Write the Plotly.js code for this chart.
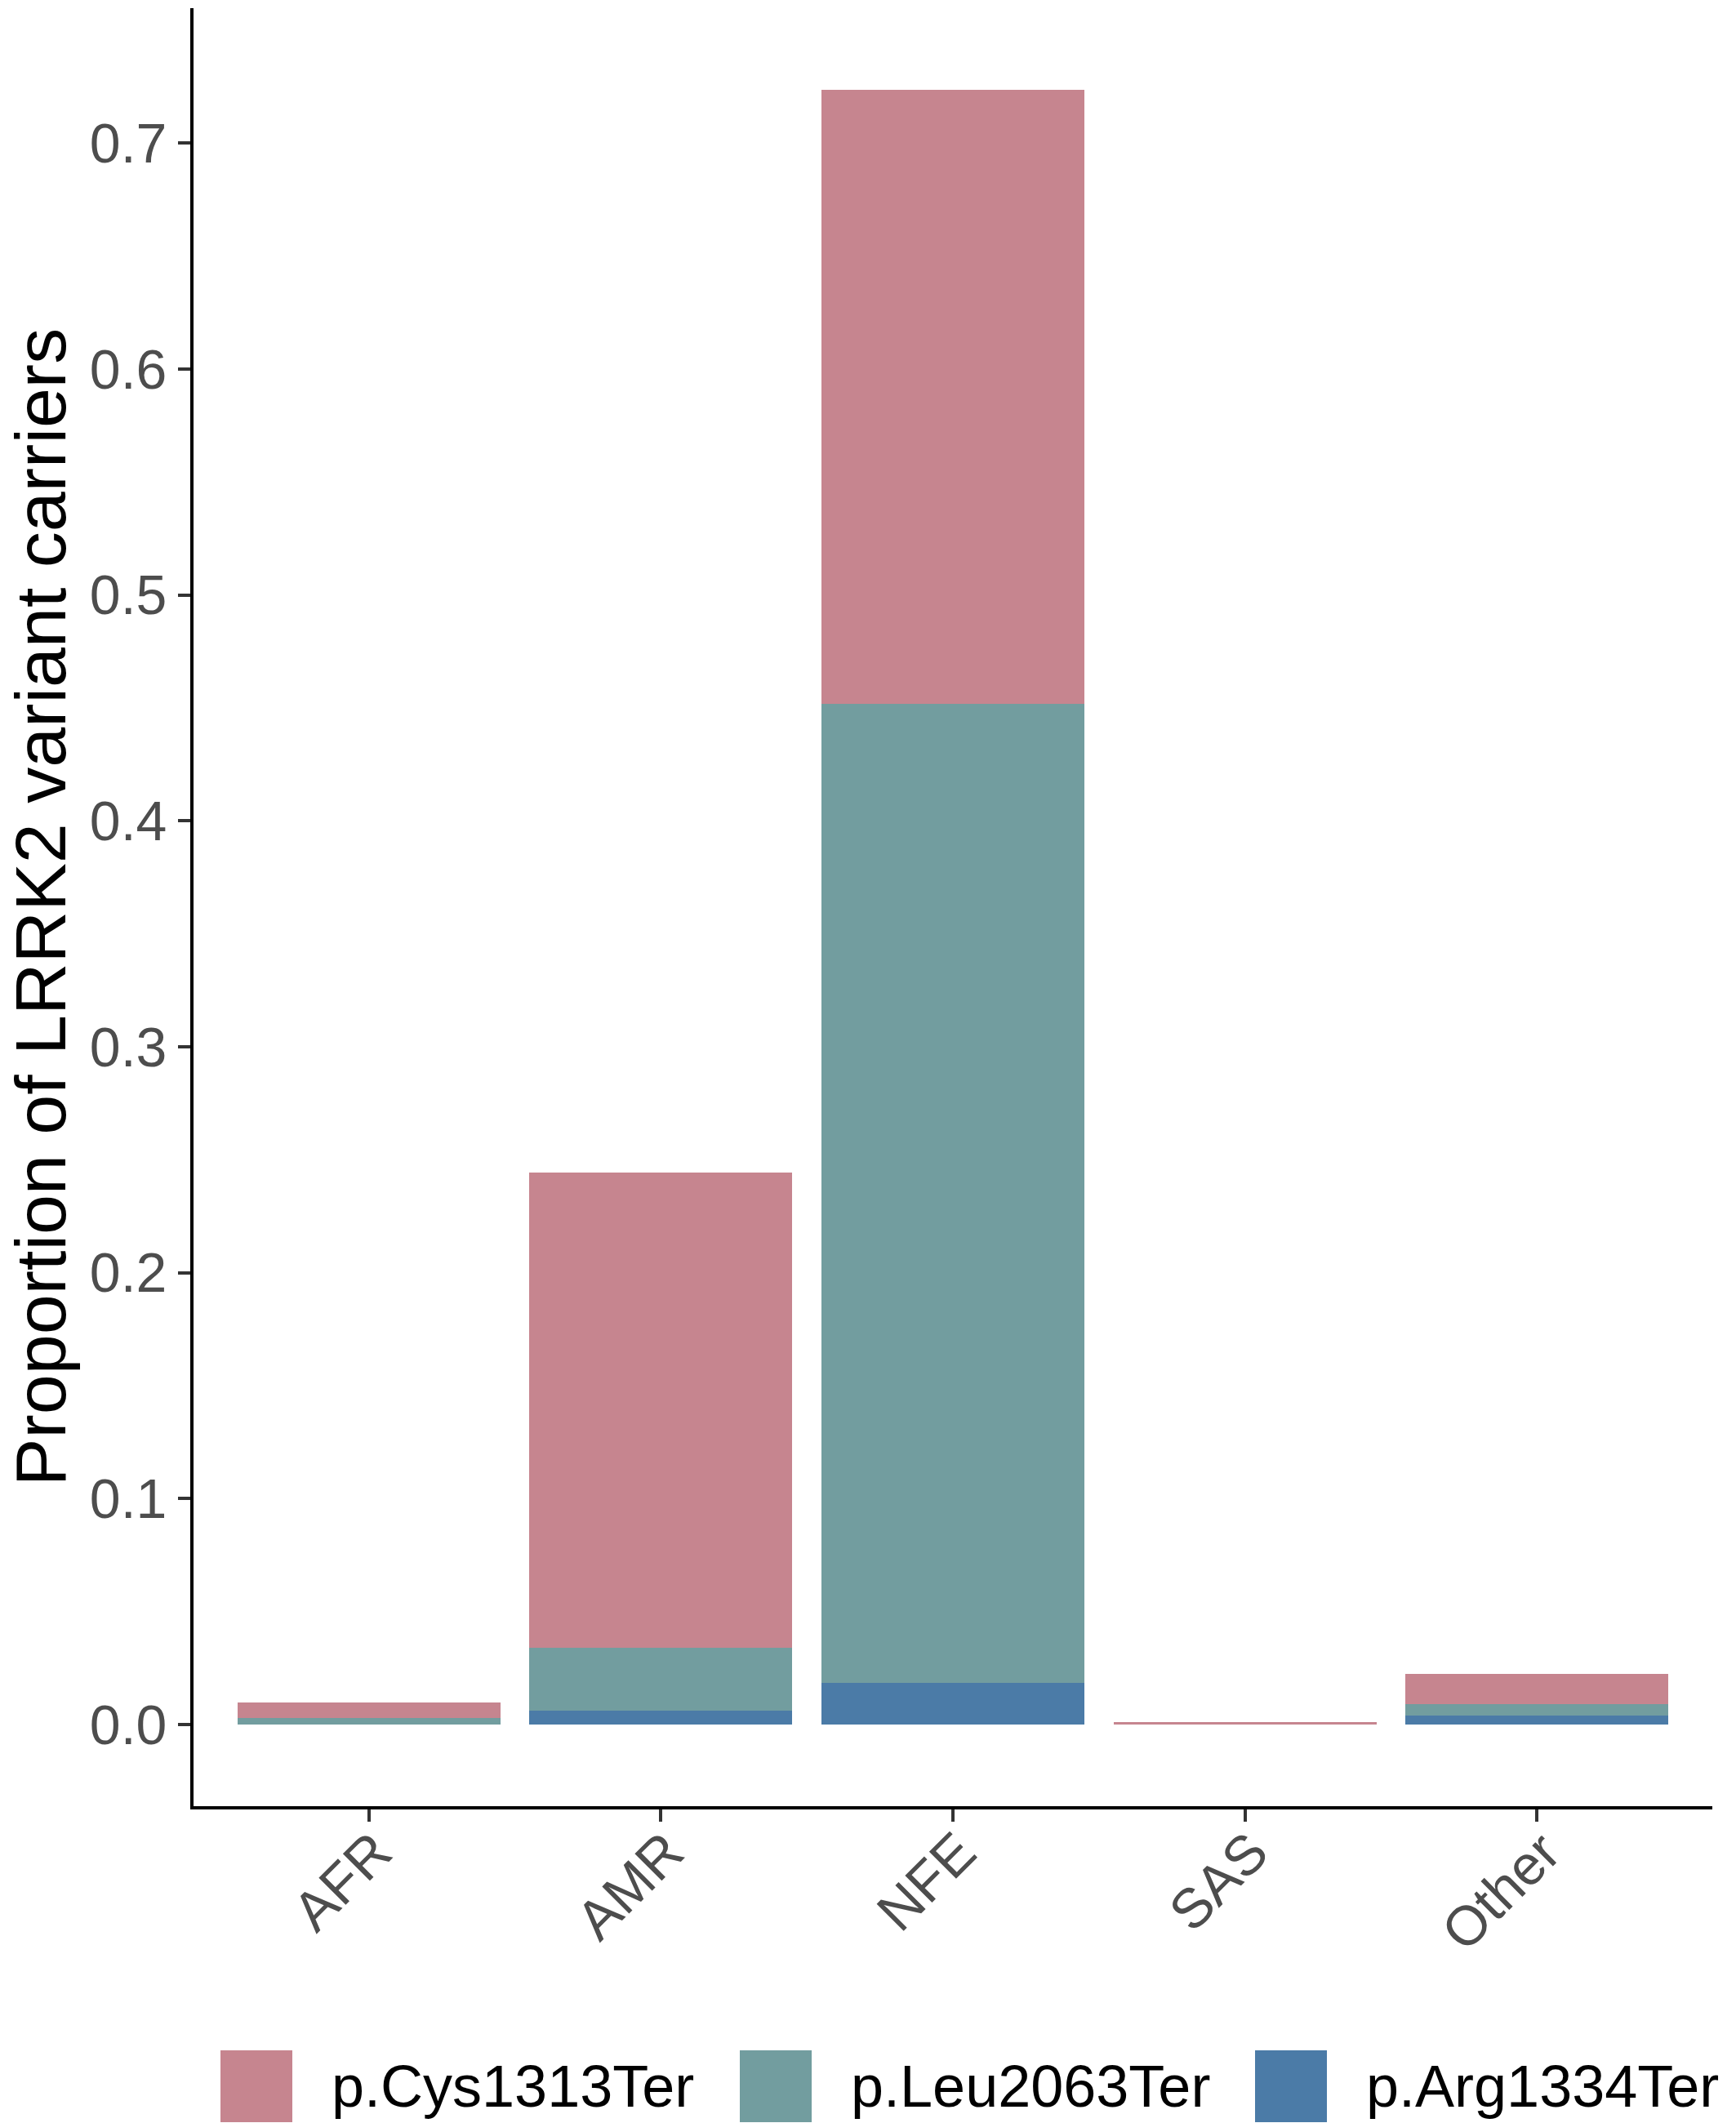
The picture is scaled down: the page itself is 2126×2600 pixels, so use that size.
<!DOCTYPE html>
<html>
<head>
<meta charset="utf-8">
<script src="https://cdn.plot.ly/plotly-3.0.1.min.js"></script>
<style>html,body{margin:0;padding:0;background:#fff;}#chart{width:2126px;height:2600px;}</style>
</head>
<body>
<div id="chart"></div>
<script>
// ---- data ----
const categories = ['AFR', 'AMR', 'NFE', 'SAS', 'Other'];
const cys1313 = [0.0068, 0.2104, 0.2717, 0.0010, 0.0133];
const leu2063 = [0.0028, 0.0279, 0.4335, 0.0000, 0.0049];
const arg1334 = [0.0000, 0.0060, 0.0183, 0.0000, 0.0040];
const seriesNames = ['p.Cys1313Ter', 'p.Leu2063Ter', 'p.Arg1334Ter'];
const seriesColors = ['#C6858F', '#729D9F', '#4B7BA7'];
const yTickVals = [0, 0.1, 0.2, 0.3, 0.4, 0.5, 0.6, 0.7];
const yTickText = ['0.0', '0.1', '0.2', '0.3', '0.4', '0.5', '0.6', '0.7'];

const W = 2126, H = 2600;
const L = 237, R = 29, T = 10, B = 388;
const FONT = 'Liberation Sans, Arial, Helvetica, sans-serif';

function bar(vals, idx) {
  return {
    type: 'bar', x: categories, y: vals, name: seriesNames[idx],
    marker: { color: seriesColors[idx], line: { width: 0 } },
    showlegend: false, hoverinfo: 'x+y+name'
  };
}
// stacking order: bottom -> top
const traces = [bar(arg1334, 2), bar(leu2063, 1), bar(cys1313, 0)];

// custom legend (large keys) built from series names/colors
const pw = W - L - R, ph = H - T - B;
const px2x = p => (p - L) / pw;
const py2y = p => (H - B - p) / ph;
const keyLeft = [270, 906, 1537];
const keySize = 88;
const keyTop = 2511;
const shapes = [], annotations = [];
seriesNames.forEach((n, i) => {
  shapes.push({
    type: 'rect', xref: 'paper', yref: 'paper',
    x0: px2x(keyLeft[i]), x1: px2x(keyLeft[i] + keySize),
    y0: py2y(keyTop + keySize), y1: py2y(keyTop),
    fillcolor: seriesColors[i], line: { width: 0 }, layer: 'above'
  });
  annotations.push({
    xref: 'paper', yref: 'paper', x: px2x(keyLeft[i] + keySize + 46), y: py2y(keyTop + keySize / 2),
    xanchor: 'left', yanchor: 'middle', showarrow: false, text: n,
    font: { family: FONT, size: 72, color: '#000000' }
  });
});

const layout = {
  width: W, height: H,
  margin: { l: L, r: R, t: T, b: B, pad: 0 },
  paper_bgcolor: '#ffffff', plot_bgcolor: '#ffffff',
  barmode: 'stack', bargap: 0.1,
  font: { family: FONT },
  xaxis: {
    type: 'category', range: [-0.6, 4.6], fixedrange: true,
    showline: true, linecolor: '#000000', linewidth: 4, mirror: false,
    ticks: 'outside', ticklen: 15, tickwidth: 4, tickcolor: '#333333',
    tickangle: -45, tickfont: { family: FONT, size: 68, color: '#4D4D4D' },
    ticklabelstandoff: -30, ticklabelshift: 8,
    showgrid: false, zeroline: false, automargin: false
  },
  yaxis: {
    range: [-0.0362, 0.7597], fixedrange: true,
    tickvals: yTickVals, ticktext: yTickText,
    showline: true, linecolor: '#000000', linewidth: 4,
    ticks: 'outside', ticklen: 15, tickwidth: 4, tickcolor: '#333333',
    tickfont: { family: FONT, size: 68, color: '#4D4D4D' },
    showgrid: false, zeroline: false, automargin: false,
    title: { text: 'Proportion of LRRK2 variant carriers', font: { family: FONT, size: 88, color: '#000000' }, standoff: 24 }
  },
  shapes: shapes, annotations: annotations
};

Plotly.newPlot('chart', traces, layout, { displayModeBar: false, staticPlot: true });
</script>
</body>
</html>
